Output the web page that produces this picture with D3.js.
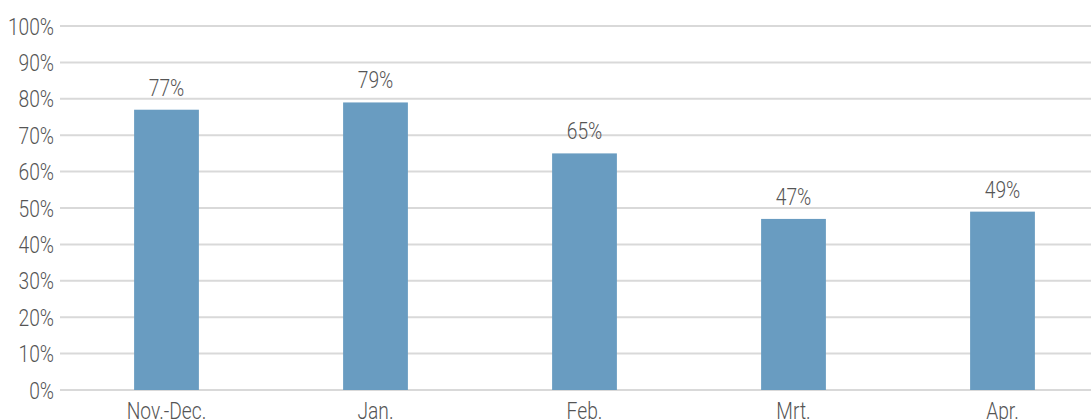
<!DOCTYPE html>
<html><head><meta charset="utf-8">
<script src="https://cdn.jsdelivr.net/npm/d3@7"></script>
<style>
html,body{margin:0;padding:0;background:#fff;overflow:hidden}
text{font-family:Roboto,"Noto Sans",sans-serif;font-weight:300;fill:#555}
</style></head>
<body><svg id="c" width="1091" height="420"></svg>
<script>
const categories = ["Nov.-Dec.", "Jan.", "Feb.", "Mrt.", "Apr."];
const values = [77, 79, 65, 47, 49];
const yTicks = [0,10,20,30,40,50,60,70,80,90,100];

const svg = d3.select("#c");
const y = d3.scaleLinear().domain([0,100]).range([390,26]);
const x = d3.scaleBand().domain(categories).range([62,1107]).paddingInner(0.69).paddingOuter(0.345);
const sx = 0.8;

// gridlines
svg.append("g").selectAll("line").data(yTicks).join("line")
  .attr("x1",60).attr("x2",1091)
  .attr("y1",d=>y(d)).attr("y2",d=>y(d))
  .attr("stroke","#d9d9d9").attr("stroke-width",2);

// y labels
svg.append("g").selectAll("text").data(yTicks).join("text")
  .attr("transform",d=>`translate(54,${y(d)+8.5}) scale(${sx},1)`)
  .attr("text-anchor","end").attr("font-size",24)
  .text(d=>d+"%");

// bars
svg.append("g").selectAll("rect").data(values).join("rect")
  .attr("x",(d,i)=>x(categories[i])).attr("width",x.bandwidth())
  .attr("y",d=>y(d)).attr("height",d=>y(0)-y(d))
  .attr("fill","#699cc1");

// value labels
svg.append("g").selectAll("text").data(values).join("text")
  .attr("transform",(d,i)=>`translate(${x(categories[i])+x.bandwidth()/2},${y(d)-14}) scale(${sx},1)`)
  .attr("text-anchor","middle").attr("font-size",24)
  .text(d=>d+"%");

// x labels
svg.append("g").selectAll("text").data(categories).join("text")
  .attr("transform",d=>`translate(${x(d)+x.bandwidth()/2},419) scale(${sx},1)`)
  .attr("text-anchor","middle").attr("font-size",24)
  .text(d=>d);
</script></body></html>
